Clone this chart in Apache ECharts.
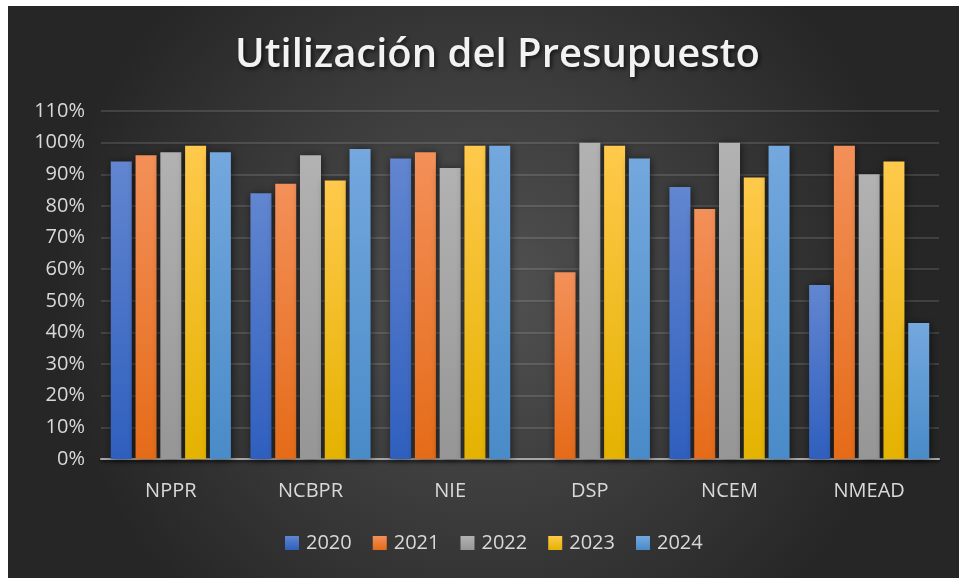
<!DOCTYPE html>
<html>
<head>
<meta charset="utf-8">
<script src="https://cdn.jsdelivr.net/npm/echarts@6/dist/echarts.min.js"></script>
<style>
  html, body { margin: 0; padding: 0; background: #ffffff; width: 959px; height: 578px; overflow: hidden; }
  #chart { position: absolute; left: 8px; top: 6px; width: 951px; height: 572px; }
</style>
</head>
<body>
<div id="chart"></div>
<script>
const titleText = 'Utilización del Presupuesto';
const categories = ['NPPR', 'NCBPR', 'NIE', 'DSP', 'NCEM', 'NMEAD'];
const years = ['2020', '2021', '2022', '2023', '2024'];
const v2020 = [94, 84, 95, null, 86, 55];
const v2021 = [96, 87, 97, 59, 79, 99];
const v2022 = [97, 96, 92, 100, 100, 90];
const v2023 = [99, 88, 99, 99, 89, 94];
const v2024 = [97, 98, 99, 95, 99, 43];
const yTickLabels = ['0%','10%','20%','30%','40%','50%','60%','70%','80%','90%','100%','110%'];

const seriesValues = [v2020, v2021, v2022, v2023, v2024];
const gradients = [
  ['#6286d0', '#2f5fbe'],
  ['#f39059', '#e56b18'],
  ['#b2b2b2', '#969696'],
  ['#ffc94c', '#e4b200'],
  ['#74a8de', '#498bc8']
];

const chart = echarts.init(document.getElementById('chart'));
const FONT = '"Open Sans", "Noto Sans", sans-serif';

chart.setOption({
  backgroundColor: new echarts.graphic.RadialGradient(0.5, 0.5, 0.75, [
    { offset: 0, color: '#525252' },
    { offset: 1, color: '#262626' }
  ]),
  animation: false,
  title: {
    text: titleText,
    left: 222,
    top: 25,
    textStyle: {
      color: '#f2f2f2',
      fontSize: 40,
      fontWeight: 600,
      fontFamily: FONT,
      textShadowColor: 'rgba(0,0,0,0.65)',
      textShadowBlur: 4,
      textShadowOffsetX: 2,
      textShadowOffsetY: 2
    }
  },
  legend: {
    data: years,
    bottom: 20,
    left: 272,
    itemWidth: 14,
    itemHeight: 14,
    itemGap: 21,
    icon: 'rect',
    textStyle: { color: '#d9d9d9', fontSize: 20, fontFamily: FONT, padding: [0, 0, 0, 2] }
  },
  grid: { left: 93, right: 20, top: 105, bottom: 119 },
  xAxis: {
    type: 'category',
    data: categories,
    axisTick: { show: false },
    axisLine: { lineStyle: { color: '#a6a6a6', width: 2, shadowColor: 'rgba(0,0,0,0.6)', shadowBlur: 3, shadowOffsetY: 2 } },
    axisLabel: { color: '#d9d9d9', fontSize: 20, fontFamily: FONT, margin: 22 }
  },
  yAxis: {
    type: 'value',
    min: 0,
    max: 110,
    interval: 10,
    axisLine: { show: false },
    axisTick: { show: false },
    axisLabel: {
      color: '#d9d9d9', fontSize: 20, fontFamily: FONT, margin: 16,
      formatter: function (v) { return yTickLabels[Math.round(v / 10)]; }
    },
    splitLine: { lineStyle: { color: 'rgba(255,255,255,0.13)', width: 2, shadowColor: 'rgba(0,0,0,0.4)', shadowBlur: 2, shadowOffsetY: 1 } }
  },
  series: years.map(function (y, i) {
    return {
      name: y,
      type: 'bar',
      data: seriesValues[i],
      barGap: '18%',
      barCategoryGap: '14%',
      itemStyle: {
        color: new echarts.graphic.LinearGradient(0, 0, 0, 1, [
          { offset: 0, color: gradients[i][0] },
          { offset: 1, color: gradients[i][1] }
        ]),
        shadowColor: 'rgba(0,0,0,0.6)',
        shadowBlur: 8,
        shadowOffsetX: 1,
        shadowOffsetY: 1
      }
    };
  })
});
</script>
</body>
</html>
